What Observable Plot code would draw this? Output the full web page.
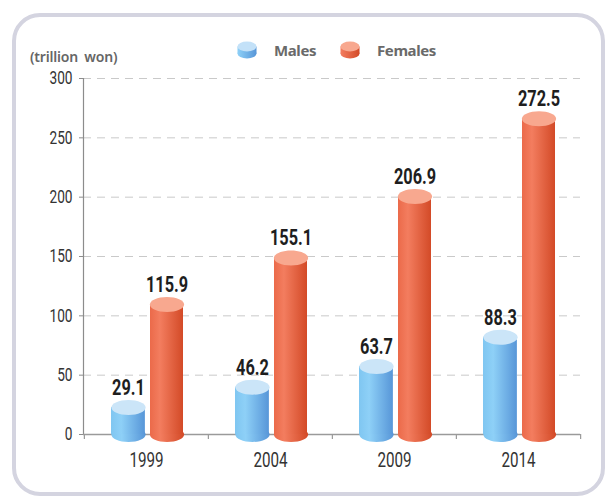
<!DOCTYPE html>
<html>
<head>
<meta charset="utf-8">
<script src="https://cdn.jsdelivr.net/npm/d3@7"></script>
<script src="https://cdn.jsdelivr.net/npm/@observablehq/plot@0.6"></script>
<style>
  html, body { margin: 0; padding: 0; background: #fff; }
  #wrap { position: relative; width: 609px; height: 501px; overflow: hidden; }
  #panel { position: absolute; left: 12px; top: 13px; width: 593px; height: 483px; box-sizing: border-box;
           border: 4.5px solid #d4d4e0; border-radius: 28px; background: #fff; }
  #chart { position: absolute; left: 0; top: 0; }
  #unit { position: absolute; left: 30px; top: 47px; font-family: "Noto Sans", "Open Sans", sans-serif;
          font-weight: 600; font-size: 14px; color: #666; word-spacing: 3px; letter-spacing: -0.2px; }
  .leg { position: absolute; top: 40px; display: flex; align-items: center; font-family: "Noto Sans", "Open Sans", sans-serif;
         font-weight: 700; font-size: 15px; color: #6a6a6a; letter-spacing: -0.4px; }
  .leg svg { margin-right: 17px; }
</style>
</head>
<body>
<div id="wrap">
  <div id="panel"></div>
  <div id="chart"></div>
  <div id="unit">(trillion won)</div>
  <div class="leg" id="legM" style="left:237px"></div>
  <div class="leg" id="legF" style="left:340px"></div>
</div>
<script>
const years = ["1999", "2004", "2009", "2014"];
const males = [29.1, 46.2, 63.7, 88.3];
const females = [115.9, 155.1, 206.9, 272.5];
const yTicks = [0, 50, 100, 150, 200, 250, 300];
const seriesNames = ["Males", "Females"];

const maleRows = years.map((y, i) => ({year: y, value: males[i]}));
const femaleRows = years.map((y, i) => ({year: y, value: females[i]}));

const numFont = 'Roboto, "DejaVu Sans", sans-serif';

const RX = 17.1, RY = 7.5;
const K = 0.5523;
const ellipse = {
  draw(ctx) {
    ctx.moveTo(RX, 0);
    ctx.bezierCurveTo(RX, K * RY, K * RX, RY, 0, RY);
    ctx.bezierCurveTo(-K * RX, RY, -RX, K * RY, -RX, 0);
    ctx.bezierCurveTo(-RX, -K * RY, -K * RX, -RY, 0, -RY);
    ctx.bezierCurveTo(K * RX, -RY, RX, -K * RY, RX, 0);
    ctx.closePath();
  }
};

function defs() {
  const ns = "http://www.w3.org/2000/svg";
  const g = document.createElementNS(ns, "defs");
  g.innerHTML = `
    <linearGradient id="gM" x1="0" x2="1" y1="0" y2="0">
      <stop offset="0" stop-color="#7fc6f1"/>
      <stop offset="0.3" stop-color="#8ed0f7"/>
      <stop offset="1" stop-color="#5796d8"/>
    </linearGradient>
    <linearGradient id="gF" x1="0" x2="1" y1="0" y2="0">
      <stop offset="0" stop-color="#eb6a4a"/>
      <stop offset="0.3" stop-color="#f37d5f"/>
      <stop offset="1" stop-color="#d34a27"/>
    </linearGradient>`;
  return g;
}

const mDx = -18, fDx = 20.5;

const chart = Plot.plot({
  width: 609,
  height: 501,
  marginLeft: 83,
  marginRight: 29,
  marginTop: 78,
  marginBottom: 67,
  style: {background: "transparent", fontFamily: numFont, overflow: "visible"},
  x: {domain: years, padding: 0, label: null},
  y: {domain: [0, 300], label: null},
  marks: [
    defs,
    Plot.ruleY(yTicks.filter(d => d > 0), {stroke: "#c9c9c9", strokeDasharray: "8,6", strokeWidth: 1}),
    Plot.frame({anchor: "left", stroke: "#8c8c8c", strokeWidth: 1.2}),
    Plot.axisY({ticks: yTicks, label: null, tickSize: 4, tickPadding: 7, fontSize: 18, color: "#333", stroke: "#8c8c8c", fontFamily: numFont}),
    Plot.ruleY([0], {stroke: "#9a9a9a", strokeWidth: 1.5}),
    Plot.ruleX(years, {x: d => d, dx: -62.125, y1: 0, y2: -4.2, stroke: "#9a9a9a", strokeWidth: 1.2}),
    Plot.ruleX([years[years.length - 1]], {x: d => d, dx: 62.125, y1: 0, y2: -4.2, stroke: "#9a9a9a", strokeWidth: 1.2}),
    Plot.axisX({label: null, tickSize: 0, tickPadding: 18, fontSize: 20, color: "#333", fontFamily: numFont}),
    // bottom ellipses
    Plot.dot(maleRows, {x: "year", y: () => 0, dx: mDx, symbol: ellipse, fill: "url(#gM)", stroke: "none"}),
    Plot.dot(femaleRows, {x: "year", y: () => 0, dx: fDx, symbol: ellipse, fill: "url(#gF)", stroke: "none"}),
    // bodies
    Plot.barY(maleRows, {x: "year", y: "value", insetLeft: 27, insetRight: 63.125, insetTop: RY, fill: "url(#gM)"}),
    Plot.barY(femaleRows, {x: "year", y: "value", insetLeft: 66, insetRight: 25, insetTop: RY, fill: "url(#gF)"}),
    // tops
    Plot.dot(maleRows, {x: "year", y: "value", dx: mDx, dy: RY, symbol: ellipse, fill: "#cbe5f8", stroke: "none"}),
    Plot.dot(femaleRows, {x: "year", y: "value", dx: fDx, dy: RY, symbol: ellipse, fill: "#f8a88f", stroke: "none"}),
    // labels
    Plot.text(maleRows, {x: "year", y: "value", dx: mDx, dy: -5, text: d => d.value.toFixed(1), lineAnchor: "bottom", fontSize: 21.5, fontWeight: "bold", fill: "#1e1e1e", fontFamily: numFont}),
    Plot.text(femaleRows, {x: "year", y: "value", dx: fDx, dy: -5, text: d => d.value.toFixed(1), lineAnchor: "bottom", fontSize: 21.5, fontWeight: "bold", fill: "#1e1e1e", fontFamily: numFont})
  ]
});
// condense the numeric type (the reference uses a condensed face)
d3.select(chart).selectAll("text").each(function () {
  const t = this.getAttribute("transform") || "";
  this.setAttribute("transform", t + " scale(0.76,1)");
});
document.getElementById("chart").appendChild(chart);

function icon(grad, top) {
  return `<svg width="20" height="20" viewBox="0 0 20 20">
    <defs><linearGradient id="${grad}L" x1="0" x2="1"><stop offset="0" stop-color="${grad === 'gM' ? '#8ed0f7' : '#f37d5f'}"/><stop offset="1" stop-color="${grad === 'gM' ? '#5796d8' : '#d34a27'}"/></linearGradient></defs>
    <ellipse cx="10" cy="13.5" rx="9.5" ry="5" fill="url(#${grad}L)"/>
    <rect x="0.5" y="6.5" width="19" height="7" fill="url(#${grad}L)"/>
    <ellipse cx="10" cy="6.5" rx="9.5" ry="5" fill="${top}"/>
  </svg>`;
}
document.getElementById("legM").innerHTML = icon("gM", "#c3e1f8") + `<span>${seriesNames[0]}</span>`;
document.getElementById("legF").innerHTML = icon("gF", "#f8a88f") + `<span>${seriesNames[1]}</span>`;
</script>
</body>
</html>
